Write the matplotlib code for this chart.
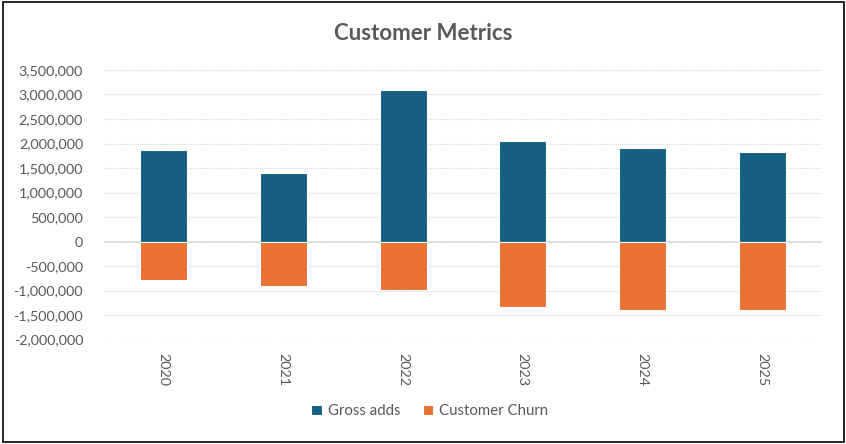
import matplotlib
matplotlib.use("Agg")
import matplotlib.pyplot as plt
from matplotlib.patches import Rectangle
from matplotlib.ticker import FuncFormatter, MultipleLocator

years = ["2020", "2021", "2022", "2023", "2024", "2025"]
gross_adds = [1870000, 1400000, 3090000, 2050000, 1905000, 1825000]
customer_churn = [-780000, -905000, -995000, -1340000, -1400000, -1400000]

plt.rcParams['font.family'] = ['Lato', 'DejaVu Sans']

W, H = 846, 444
fig = plt.figure(figsize=(W / 100, H / 100), dpi=100)
ax = fig.add_axes([104 / W, 1 - 339.5 / H, (822 - 104) / W, (339.5 - 70) / H])

x = list(range(len(years)))
blue = "#156082"
orange = "#E97132"
ax.bar(x, gross_adds, width=0.39, color=blue, edgecolor="#FFFFFF", linewidth=0.8,
       label="Gross adds", zorder=3)
ax.bar(x, customer_churn, width=0.39, color=orange, edgecolor="#FFFFFF", linewidth=0.8,
       label="Customer Churn", zorder=3)

ax.set_xlim(-0.5, len(years) - 0.5)
ax.set_ylim(-2000000, 3500000)
ax.yaxis.set_major_locator(MultipleLocator(500000))
ax.yaxis.set_major_formatter(FuncFormatter(lambda v, p: f"{int(round(v)):,}"))
ax.grid(axis="y", color="#D9D9D9", linestyle=(0, (1, 1)), linewidth=0.8, zorder=0)
ax.axhline(0, color="#D9D9D9", linewidth=1.2, zorder=2)
for s in ax.spines.values():
    s.set_visible(False)
ax.tick_params(axis="both", length=0, colors="#595959", labelsize=10.4)
ax.tick_params(axis="y", pad=15)
ax.set_xticks(x)
ax.set_xticklabels(years, rotation=-90, va="top", ha="center")
ax.tick_params(axis="x", pad=10)

fig.text(0.5, 1 - 33 / H, "Customer Metrics", ha="center", va="center",
         fontsize=16, fontweight="bold", color="#595959")

leg = fig.legend(loc="center", bbox_to_anchor=(430 / W, 1 - 411 / H), ncol=2, frameon=False,
                 fontsize=10.8, handlelength=0.7, handleheight=0.7, handletextpad=0.4,
                 columnspacing=1.5)
for t in leg.get_texts():
    t.set_color("#595959")

fig.patches.append(Rectangle((2.5 / W, 2.5 / H), (W - 5) / W, (H - 5) / H,
                             transform=fig.transFigure, fill=False,
                             edgecolor="black", linewidth=1.2))

fig.savefig("out.png", dpi=100)
